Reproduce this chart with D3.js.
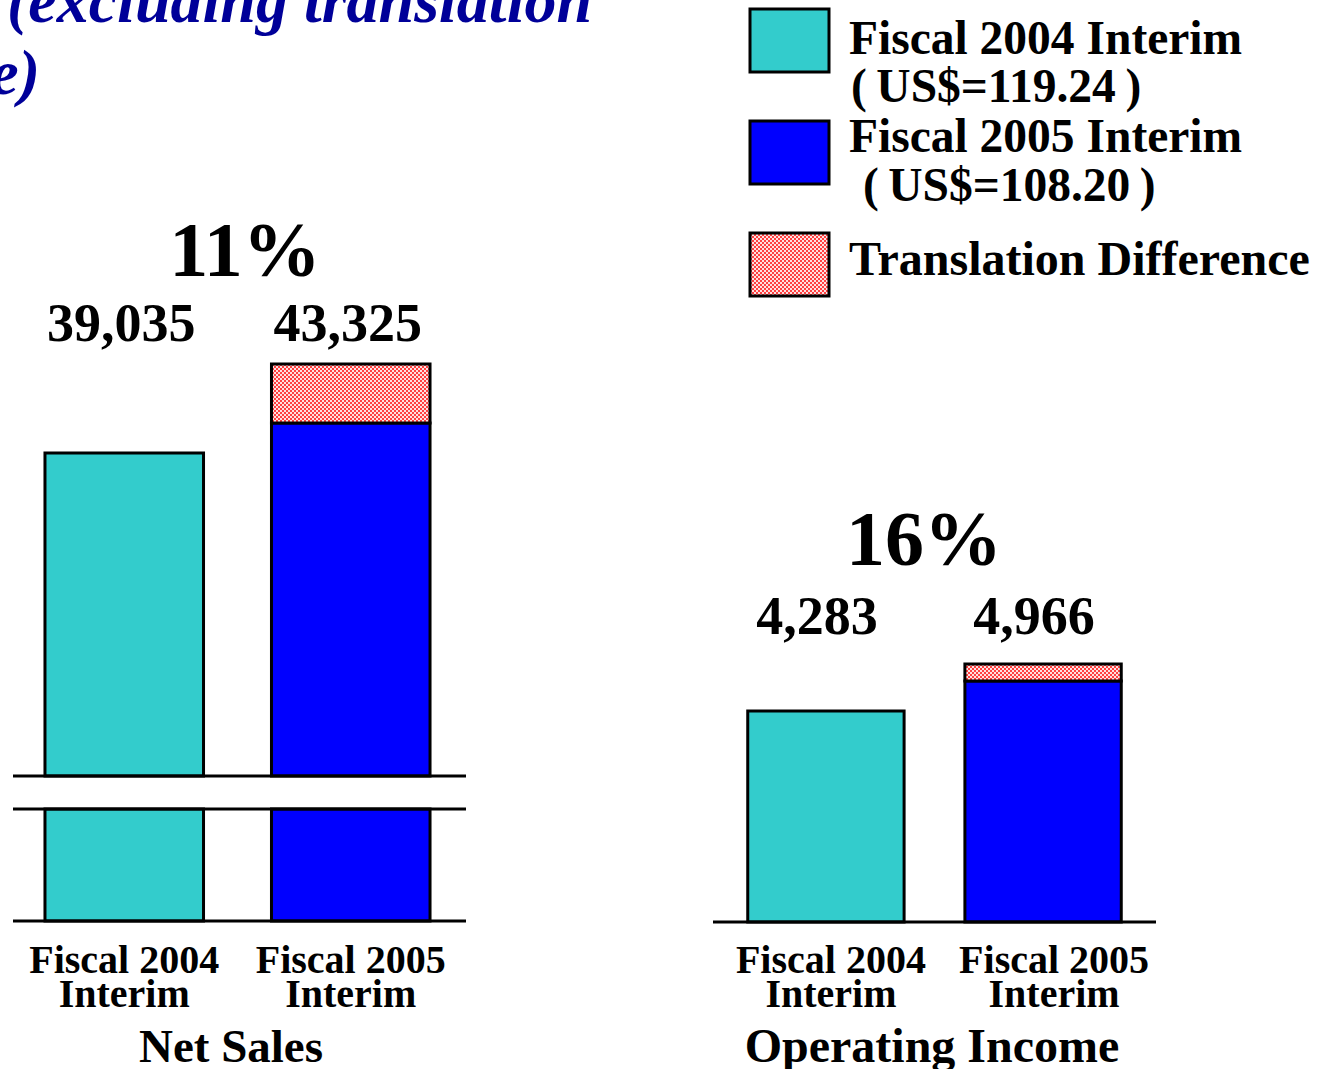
<!DOCTYPE html>
<html>

<head>
  <title>Net Sales and Operating Income</title>
  <script src="https://d3js.org/d3.v7.min.js"></script>

  <style>
    body {
      margin: 0;
      background-color: white;
      overflow: hidden;
    }

    text {
      font-family: "Liberation Serif", "Times New Roman", serif;
      font-weight: bold;
      fill: black;
    }

    .title {
      font-style: italic;
      fill: #000099;
    }

    .bar {
      stroke: black;
      stroke-width: 3px;
    }

    .axis-line {
      stroke: black;
      stroke-width: 3px;
    }
  </style>
</head>

<body>
  <svg id="chart" width="1324" height="1069"></svg>

  <script>
    // ----------- DATA -----------------------------------
    const periods = ["Fiscal 2004 Interim", "Fiscal 2005 Interim"];
    const periodLines = [["Fiscal 2004", "Interim"], ["Fiscal 2005", "Interim"]];

    const netSales = [39035, 43325];
    const netSalesExTranslation = [39035, 40480];
    const netSalesGrowth = "11%";

    const operatingIncome = [4283, 4966];
    const operatingIncomeExTranslation = [4283, 4719];
    const operatingIncomeGrowth = "16%";

    const legendLabels = [
      ["Fiscal 2004 Interim", "(\u2009US$=119.24\u2009)"],
      ["Fiscal 2005 Interim", " (\u2009US$=108.20\u2009)"],
      ["Translation Difference"]
    ];

    const colors = ["#33cccc", "#0000ff", "url(#checker)"];

    const svg = d3.select("#chart");

    // checker pattern for the translation difference
    const pattern = svg.append("defs").append("pattern")
      .attr("id", "checker")
      .attr("width", 4)
      .attr("height", 4)
      .attr("patternUnits", "userSpaceOnUse");
    pattern.append("rect").attr("width", 4).attr("height", 4).attr("fill", "#ffe0e0");
    pattern.append("rect").attr("width", 2).attr("height", 2).attr("fill", "#ff4040");
    pattern.append("rect").attr("x", 2).attr("y", 2).attr("width", 2).attr("height", 2).attr("fill", "#ff4040");

    // ----------- TITLE (cut off) -----------------------------------
    svg.append("text")
      .attr("class", "title")
      .attr("x", 7)
      .attr("y", 22)
      .attr("font-size", 64)
      .text("(excluding translation");

    svg.append("text")
      .attr("class", "title")
      .attr("x", 40)
      .attr("y", 94)
      .attr("text-anchor", "end")
      .attr("font-size", 64)
      .text("difference)");

    // ----------- LEGEND -----------------------------------
    const legendY = [9, 121, 233];
    const legendTextY = [[54, 102], [152, 201], [275]];

    legendLabels.forEach((lines, i) => {
      svg.append("rect")
        .attr("class", "bar")
        .attr("x", 750)
        .attr("y", legendY[i])
        .attr("width", 79)
        .attr("height", 63)
        .attr("fill", colors[i]);

      lines.forEach((line, j) => {
        svg.append("text")
          .attr("x", j === 0 ? 849 : 851)
          .attr("y", legendTextY[i][j])
          .attr("font-size", i === 2 ? 48 : 47.5)
          .attr("xml:space", "preserve")
          .text(line);
      });
    });

    // ----------- NET SALES (broken axis) -----------------------------------
    const netX = d3.scaleBand()
      .domain(periods)
      .range([11, 464])
      .paddingInner(0.3)
      .paddingOuter(0.15);

    // upper part of the broken axis
    const netSalesBreakValue = 23465;
    const netY = d3.scaleLinear()
      .domain([netSalesBreakValue, d3.max(netSales)])
      .range([776, 364]);

    // lower part of the broken axis
    const netYLower = d3.scaleLinear()
      .domain([0, 5000])
      .range([921, 809]);

    const netGroup = svg.append("g");

    periods.forEach((p, i) => {
      // lower stub
      netGroup.append("rect")
        .attr("class", "bar")
        .attr("x", netX(p))
        .attr("y", netYLower(5000))
        .attr("width", netX.bandwidth())
        .attr("height", netYLower(0) - netYLower(5000))
        .attr("fill", colors[i]);

      // main bar
      netGroup.append("rect")
        .attr("class", "bar")
        .attr("x", netX(p))
        .attr("y", netY(netSalesExTranslation[i]))
        .attr("width", netX.bandwidth())
        .attr("height", netY(netSalesBreakValue) - netY(netSalesExTranslation[i]))
        .attr("fill", colors[i]);

      // translation difference
      if (netSales[i] > netSalesExTranslation[i]) {
        netGroup.append("rect")
          .attr("class", "bar")
          .attr("x", netX(p))
          .attr("y", netY(netSales[i]))
          .attr("width", netX.bandwidth())
          .attr("height", netY(netSalesExTranslation[i]) - netY(netSales[i]))
          .attr("fill", colors[2]);
      }

      netGroup.append("text")
        .attr("x", netX(p) + netX.bandwidth() / 2 - 3)
        .attr("y", 341)
        .attr("text-anchor", "middle")
        .attr("font-size", 54)
        .text(d3.format(",")(netSales[i]));

      periodLines[i].forEach((line, j) => {
        netGroup.append("text")
          .attr("x", netX(p) + netX.bandwidth() / 2)
          .attr("y", 973 + j * 34)
          .attr("text-anchor", "middle")
          .attr("font-size", 40)
          .text(line);
      });
    });

    // axis lines and break marks
    [netYLower(0), netYLower(5000), netY(netSalesBreakValue)].forEach(y => {
      netGroup.append("line")
        .attr("class", "axis-line")
        .attr("x1", 13)
        .attr("x2", 466)
        .attr("y1", y)
        .attr("y2", y);
    });

    netGroup.append("text")
      .attr("x", 245)
      .attr("y", 276)
      .attr("text-anchor", "middle")
      .attr("font-size", 78)
      .text(netSalesGrowth);

    netGroup.append("text")
      .attr("x", 231)
      .attr("y", 1062)
      .attr("text-anchor", "middle")
      .attr("font-size", 47)
      .text("Net Sales");

    // ----------- OPERATING INCOME -----------------------------------
    const opX = d3.scaleBand()
      .domain(periods)
      .range([713, 1156])
      .paddingInner(0.28)
      .paddingOuter(0.16);

    const opAxisBase = 1217;
    const opY = d3.scaleLinear()
      .domain([opAxisBase, d3.max(operatingIncome)])
      .range([922, 664]);

    const opGroup = svg.append("g");

    periods.forEach((p, i) => {
      opGroup.append("rect")
        .attr("class", "bar")
        .attr("x", opX(p))
        .attr("y", opY(operatingIncomeExTranslation[i]))
        .attr("width", opX.bandwidth())
        .attr("height", opY(opAxisBase) - opY(operatingIncomeExTranslation[i]))
        .attr("fill", colors[i]);

      if (operatingIncome[i] > operatingIncomeExTranslation[i]) {
        opGroup.append("rect")
          .attr("class", "bar")
          .attr("x", opX(p))
          .attr("y", opY(operatingIncome[i]))
          .attr("width", opX.bandwidth())
          .attr("height", opY(operatingIncomeExTranslation[i]) - opY(operatingIncome[i]))
          .attr("fill", colors[2]);
      }

      opGroup.append("text")
        .attr("x", opX(p) + opX.bandwidth() / 2 - 9)
        .attr("y", 634)
        .attr("text-anchor", "middle")
        .attr("font-size", 54)
        .text(d3.format(",")(operatingIncome[i]));

      periodLines[i].forEach((line, j) => {
        opGroup.append("text")
          .attr("x", opX(p) + opX.bandwidth() / 2 + (i === 0 ? 5 : 11))
          .attr("y", 973 + j * 34)
          .attr("text-anchor", "middle")
          .attr("font-size", 40)
          .text(line);
      });
    });

    opGroup.append("line")
      .attr("class", "axis-line")
      .attr("x1", 713)
      .attr("x2", 1156)
      .attr("y1", opY(opAxisBase))
      .attr("y2", opY(opAxisBase));

    opGroup.append("text")
      .attr("x", 924)
      .attr("y", 565)
      .attr("text-anchor", "middle")
      .attr("font-size", 78)
      .text(operatingIncomeGrowth);

    opGroup.append("text")
      .attr("x", 932)
      .attr("y", 1062)
      .attr("text-anchor", "middle")
      .attr("font-size", 48)
      .text("Operating Income");
  </script>

</body>

</html>
